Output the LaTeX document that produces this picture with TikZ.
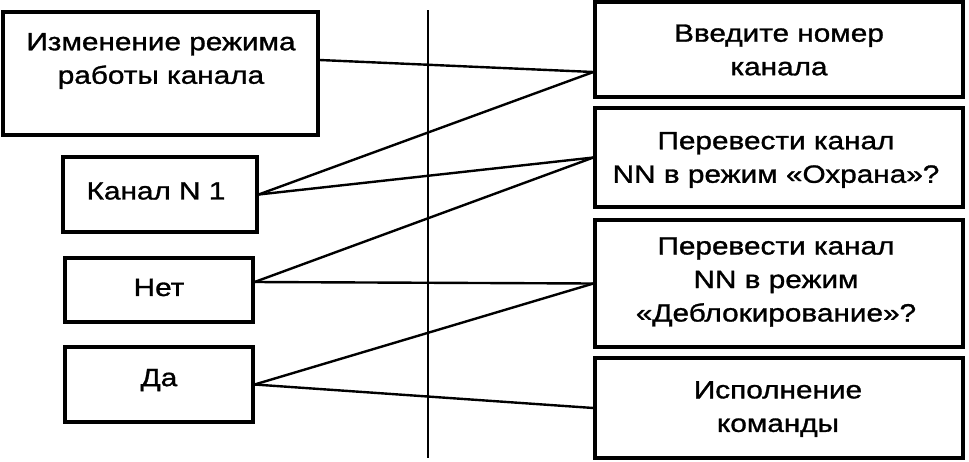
\documentclass[tikz,border=0pt]{standalone}
\usepackage{fontspec}
\setmainfont{Liberation Sans}[FakeStretch=1.19,FakeBold=1.2]
\usepackage{tikz}

\begin{document}
\begin{tikzpicture}[x=1pt,y=-1pt,
	box/.style={draw, line width=3.2pt, inner sep=0pt},
	txt/.style={align=center, inner sep=0pt, font=\fontsize{25}{33.5}\selectfont},
	link/.style={line width=2.4pt}]
	\useasboundingbox (0,0) rectangle (969,461);
	
	% Boxes on the left side
	\node[box, minimum width=315pt, minimum height=123pt] (L1) at (160.5,73.5) {};
	\node[box, minimum width=194pt, minimum height=75pt] (L2) at (160,194.5) {};
	\node[box, minimum width=188pt, minimum height=64pt] (L3) at (159,290) {};
	\node[box, minimum width=188pt, minimum height=75pt] (L4) at (159,384.5) {};
	
	% Boxes on the right side
	\node[box, minimum width=368pt, minimum height=95pt] (R1) at (779,49.5) {};
	\node[box, minimum width=368pt, minimum height=99pt] (R2) at (779,157.5) {};
	\node[box, minimum width=368pt, minimum height=127pt] (R3) at (779,283.5) {};
	\node[box, minimum width=368pt, minimum height=100pt] (R4) at (779,408) {};
	
	% Texts of the boxes
	\node[txt] (L1t) at (161,61) {Изменение режима\\работы канала};
	\node[txt] (L2t) at (156,191) {Канал N 1};
	\node[txt] (L3t) at (159,287.5) {Нет};
	\node[txt] (L4t) at (159,380) {Да};
	\node[txt] (R1t) at (779,50) {Введите номер\\канала};
	\node[txt] (R2t) at (776,160) {Перевести канал\\NN в режим «Охрана»?};
	\node[txt] (R3t) at (776,282) {Перевести канал\\NN в режим\\«Деблокирование»?};
	\node[txt] (R4t) at (778,409) {Исполнение\\команды};
	
	% Dividing line
	\coordinate (top) at (428,10);
	\coordinate (bot) at (428,458);
	\draw[line width=2.8pt] (top) -- (bot);
	
	% Connect the boxes
	\draw[link] ([yshift=13.5pt]L1.east) -- ([yshift=-22.5pt]R1.west);
	\draw[link] (L2.east) -- ([yshift=-22.5pt]R1.west);
	\draw[link] (L2.east) -- (R2.west);
	\draw[link] ([yshift=8pt]L3.east) -- (R2.west);
	\draw[link] ([yshift=8pt]L3.east) -- (R3.west);
	\draw[link] (L4.east) -- (R3.west);
	\draw[link] (L4.east) -- (R4.west);
	
\end{tikzpicture}
\end{document}
